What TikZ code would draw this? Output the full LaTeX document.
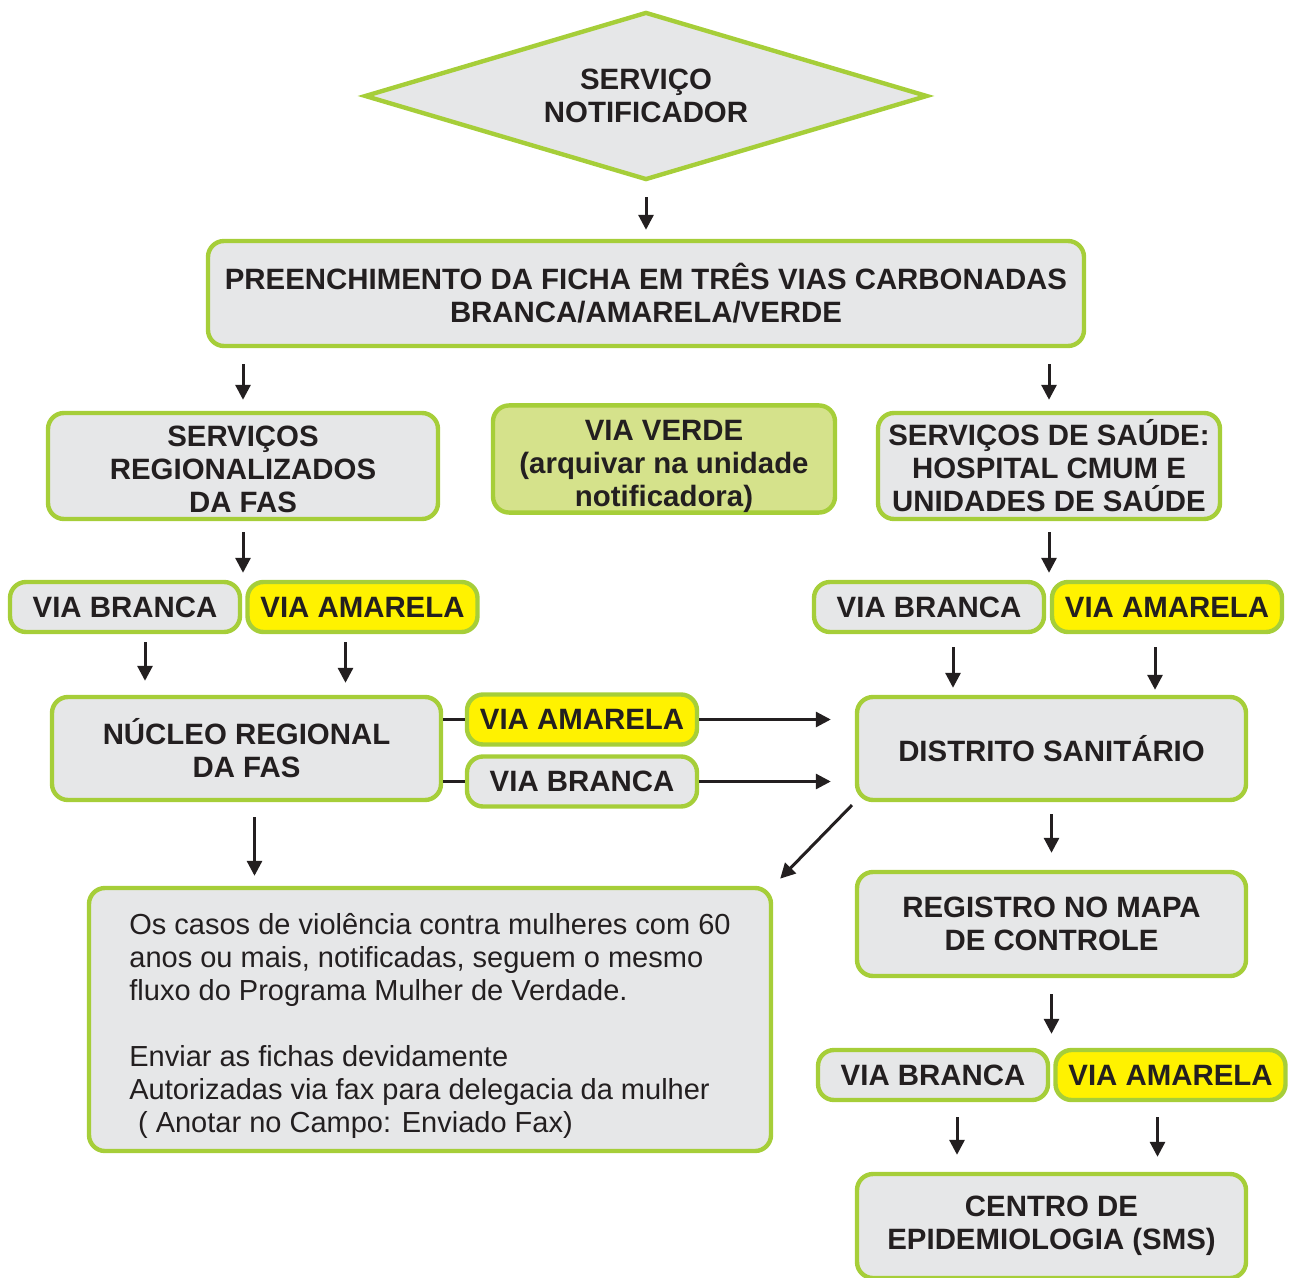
\documentclass[tikz,border=0pt]{standalone}
\usepackage{fontspec}
\setmainfont{Liberation Sans}
\usepackage{tikz}
\usetikzlibrary{arrows.meta,shapes.geometric}
\definecolor{brd}{HTML}{A6CE39}
\definecolor{gry}{HTML}{E6E7E8}
\definecolor{ylw}{HTML}{FFF200}
\definecolor{vrd}{HTML}{D5E28B}
\definecolor{ink}{HTML}{231F20}
\tikzset{
  bx/.style = {rectangle, rounded corners=8pt, draw=brd, line width=2.2pt,
    fill=gry, align=center, inner sep=0pt, text=ink,
    font=\fontsize{14.7pt}{16.5pt}\selectfont\bfseries},% grey box
  big/.style = {bx, minimum width=194.5pt, minimum height=51.5pt},% large box
  vb/.style = {bx, minimum width=115pt, minimum height=25pt},% via branca
  va/.style = {vb, fill=ylw},% via amarela
  ar/.style = {->, line width=1.5pt, draw=ink}% arrow
}
\begin{document}
\begin{tikzpicture}[x=0.5pt,y=-0.5pt,>={Triangle[length=7.5pt,width=7.5pt]}]
\useasboundingbox (0,0) rectangle (1293,1277);
\node [bx, diamond, aspect=3.35, rounded corners=0pt, minimum width=281.5pt, minimum height=84pt] (svn) at (646,96) {SERVIÇO\\NOTIFICADOR};
\node [bx, minimum width=438pt, minimum height=52.5pt] (fic) at (646,293.5) {PREENCHIMENTO DA FICHA EM TRÊS VIAS CARBONADAS\\BRANCA/AMARELA/VERDE};
\node [bx, minimum width=195pt, minimum height=53pt] (srg) at (243,466) {\rule{0pt}{13.5pt}SERVIÇOS\\REGIONALIZADOS\\DA FAS};
\node [bx, fill=vrd, minimum width=171pt, minimum height=53pt] (vvd) at (664,459) {\rule{0pt}{17.5pt}VIA VERDE\\(arquivar na unidade\\notificadora)};
\node [bx, minimum width=171pt, minimum height=53pt] (sds) at (1049,466) {SERVIÇOS DE SAÚDE:\\HOSPITAL CMUM E\\UNIDADES DE SAÚDE};
\node [vb] (vb1) at (125,607) {VIA BRANCA};
\node [va] (va1) at (362.5,607) {VIA AMARELA};
\node [vb] (vb2) at (929,607) {VIA BRANCA};
\node [va] (va2) at (1167,607) {VIA AMARELA};
\node [big] (nrf) at (246.5,748.5) {NÚCLEO REGIONAL\\DA FAS};
\node [va] (va3) at (582,719.5) {VIA AMARELA};
\node [vb] (vb3) at (582,781.5) {VIA BRANCA};
\node [big] (dst) at (1051.5,748.5) {DISTRITO SANITÁRIO};
\node [bx, align=left, font=\fontsize{14.5pt}{16.5pt}\selectfont,
  minimum width=341pt, minimum height=131.5pt] (nt) at (430,1019.5)
  {\rule{0pt}{16.5pt}Os casos de violência contra mulheres com 60\\anos ou mais, notificadas, seguem o mesmo\\fluxo do Programa Mulher de Verdade.\\[16.5pt]Enviar as fichas devidamente\\Autorizadas via fax para delegacia da mulher\\\hspace{0.3em}( Anotar no Campo: Enviado Fax)};
\node [big, minimum height=52pt] (reg) at (1051.5,924) {REGISTRO NO MAPA\\DE CONTROLE};
\node [vb] (vb4) at (933,1075) {VIA BRANCA};
\node [va] (va4) at (1170.5,1075) {VIA AMARELA};
\node [big, minimum height=52pt] (cen) at (1051.5,1226) {CENTRO DE\\EPIDEMIOLOGIA (SMS)};
% arrows
\draw [ar, shorten <=7.5pt, shorten >=4.5pt] (svn.south) -- (fic.north);
\draw [ar, shorten <=8pt, shorten >=5.5pt] (fic.south -| srg.north) -- (srg.north);
\draw [ar, shorten <=8pt, shorten >=5.5pt] (fic.south -| sds.north) -- (sds.north);
\draw [ar, shorten <=5.5pt, shorten >=3.5pt] (srg.south) -- (srg.south |- vb1.north);
\draw [ar, shorten <=5.5pt, shorten >=3.5pt] (sds.south) -- (sds.south |- vb2.north);
\draw [ar, shorten <=4pt, shorten >=7pt] ([xshift=10pt]vb1.south) -- ([xshift=10pt]vb1.south |- nrf.north);
\draw [ar, shorten <=4pt, shorten >=6pt] ([xshift=-8.5pt]va1.south) -- ([xshift=-8.5pt]va1.south |- nrf.north);
\draw [ar, shorten <=6.5pt, shorten >=3.5pt] ([xshift=12pt]vb2.south) -- ([xshift=12pt]vb2.south |- dst.north);
\draw [ar, shorten <=6.5pt, shorten >=2.5pt] ([xshift=-6pt]va2.south) -- ([xshift=-6pt]va2.south |- dst.north);
\draw [line width=1.5pt, ink] (nrf.east |- va3.west) -- (va3.west);
\draw [line width=1.5pt, ink] (nrf.east |- vb3.west) -- (vb3.west);
\draw [ar, shorten >=12pt] (va3.east) -- (va3.east -| dst.west);
\draw [ar, shorten >=12pt] (vb3.east) -- (vb3.east -| dst.west);
\draw [ar, shorten <=2pt, shorten >=5pt] (dst.south west) -- (nt.north east);
\draw [ar, shorten <=7.5pt, shorten >=5pt] ([xshift=4pt]nrf.south) -- ([xshift=4pt]nrf.south |- nt.north);
\draw [ar, shorten <=6pt, shorten >=8.5pt] (dst.south) -- (reg.north);
\draw [ar, shorten <=8pt, shorten >=7pt] (reg.south) -- (reg.south |- vb4.north);
\draw [ar, shorten <=7.5pt, shorten >=8.5pt] ([xshift=12pt]vb4.south) -- ([xshift=12pt]vb4.south |- cen.north);
\draw [ar, shorten <=7.5pt, shorten >=7.5pt] ([xshift=-6.5pt]va4.south) -- ([xshift=-6.5pt]va4.south |- cen.north);
\end{tikzpicture}
\end{document}
